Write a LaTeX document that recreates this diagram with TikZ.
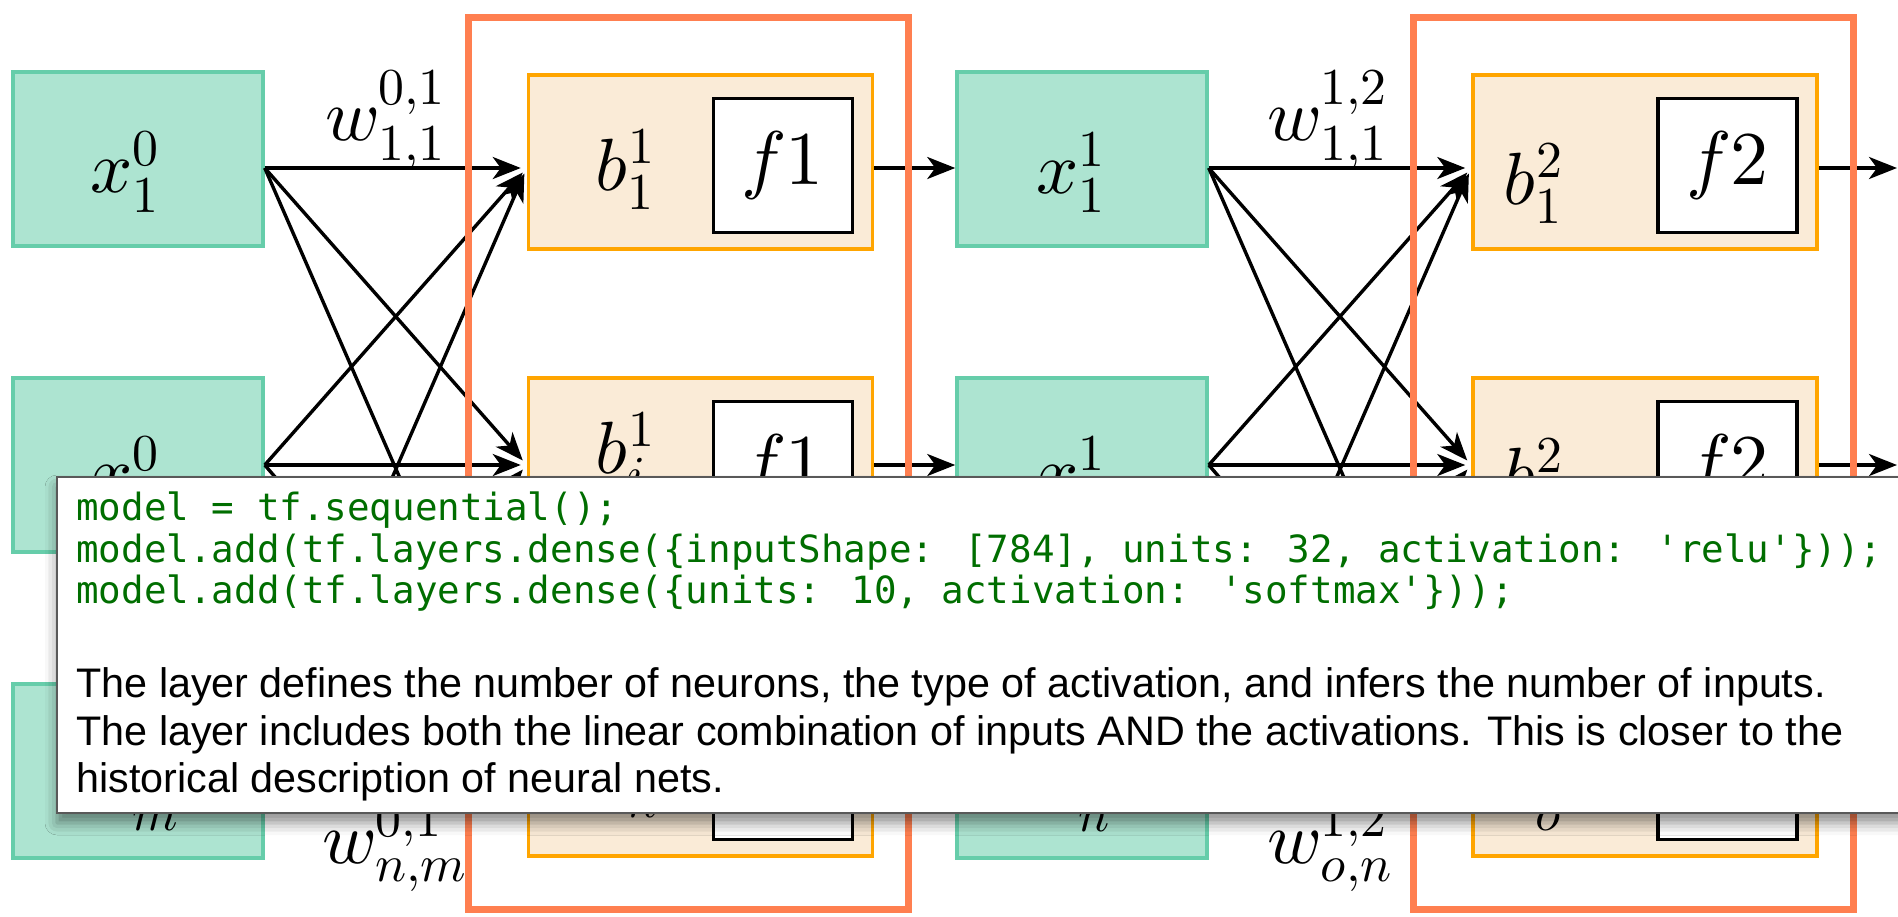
\documentclass[tikz,border=0pt]{standalone}
\usepackage{amsmath}
\usepackage{unicode-math}
\newfontfamily\notefont{Liberation Sans}
\newfontfamily\codefont{DejaVu Sans Mono}
\usetikzlibrary{arrows.meta, positioning, shadows.blur}

\definecolor{infill}{RGB}{173,228,209}
\definecolor{inedge}{RGB}{102,205,170}
\definecolor{nfill}{RGB}{250,235,215}
\definecolor{nedge}{RGB}{255,165,0}
\definecolor{layeredge}{RGB}{255,127,80}
\definecolor{codegreen}{RGB}{0,110,0}

\begin{document}
\begin{tikzpicture}[x=0.5pt, y=-0.5pt,
  inbox/.style={draw=inedge, fill=infill, line width=1.75pt, minimum width=125pt, minimum height=87pt, inner sep=0pt},
  neuron/.style={draw=nedge, fill=nfill, line width=1.75pt, minimum width=172pt, minimum height=87pt, inner sep=0pt},
  actbox/.style={draw=black, fill=white, line width=1.75pt, minimum width=69.5pt, minimum height=67pt, inner sep=0pt, font=\fontsize{38}{40}\selectfont},
  layerbox/.style={draw=layeredge, line width=3.5pt, minimum width=220pt, minimum height=446pt, inner sep=0pt},
  mlab/.style={inner sep=0pt, anchor=base west, font=\fontsize{37}{40}\selectfont},
  wire/.style={-{Stealth[length=14pt, width=11pt, inset=4pt]}, line width=1.7pt},
  panel/.style={draw=black!65, fill=white, line width=0.8pt, minimum width=929pt, minimum height=168pt, inner sep=0pt,
    blur shadow={shadow xshift=0pt, shadow yshift=-5pt, shadow blur radius=6pt, shadow opacity=45}},
  codeline/.style={inner sep=0pt, anchor=base west, text=codegreen, font=\codefont\fontsize{18.75}{20}\selectfont},
  noteline/.style={inner sep=0pt, anchor=base west, font=\notefont\fontsize{20.65}{23}\selectfont}]
\useasboundingbox (0,0) rectangle (1898,916);
\clip (0,0) rectangle (1898,916);
\coordinate (row1) at (0,168);

% layer 0 inputs
\node[inbox] (x01) at (138,159) {};
\node[inbox] (x0i) at (138,465) {};
\node[inbox] (x0m) at (138,771) {};
\node[mlab] (lx01) at (90,192) {$x^0_1$};
\node[mlab] (lx0i) at (90,497) {$x^0_i$};
\node[mlab] (lx0m) at (90,812) {$x^0_m$};

% layer 1 neurons: bias + activation
\node[neuron] (b11) at (700.5,162) {};
\node[neuron] (b1i) at (700.5,465) {};
\node[neuron] (b1n) at (700.5,769) {};
\node[mlab] (lb11) at (595,190) {$b^1_1$};
\node[mlab] (lb1i) at (595,473) {$b^1_i$};
\node[mlab] (lb1n) at (595,799) {$b^1_n$};
\node[actbox] (f11) at (783,165.5) {$f1$};
\node[actbox] (f1i) at (783,468.5) {$f1$};
\node[actbox] (f1n) at (783,772.5) {$f1$};

% layer 1 outputs
\node[inbox] (x11) at (1082,159) {};
\node[inbox] (x1i) at (1082,465) {};
\node[inbox] (x1n) at (1082,771) {};
\node[mlab] (lx11) at (1036,193) {$x^1_1$};
\node[mlab] (lx1i) at (1036,497) {$x^1_i$};
\node[mlab] (lx1n) at (1036,813) {$x^1_n$};

% layer 2 neurons
\node[neuron] (b21) at (1645,162) {};
\node[neuron] (b2i) at (1645,465) {};
\node[neuron] (b2o) at (1645,769) {};
\node[mlab] (lb21) at (1503,204) {$b^2_1$};
\node[mlab] (lb2i) at (1503,499) {$b^2_i$};
\node[mlab] (lb2o) at (1503,812) {$b^2_o$};
\node[actbox] (f21) at (1727.5,165.5) {$f2$};
\node[actbox] (f2i) at (1727.5,468.5) {$f2$};
\node[actbox] (f2o) at (1727.5,772.5) {$f2$};

% weights
\node[mlab] (w01top) at (325,140) {$w^{0,1}_{1,1}$};
\node[mlab] (w01bot) at (322,863) {$w^{0,1}_{n,m}$};
\node[mlab] (w12top) at (1267,140) {$w^{1,2}_{1,1}$};
\node[mlab] (w12bot) at (1267,863) {$w^{1,2}_{o,n}$};

% fully connected wires
\foreach \s in {x01.east |- row1, x0i.east, x0m.east}
  \foreach \t in {b11.west |- row1, b1i.west, b1n.west}
    \draw[wire, shorten >=3pt] (\s) -- (\t);
\foreach \s in {x11.east |- row1, x1i.east, x1n.east}
  \foreach \t in {b21.west |- row1, b2i.west, b2o.west}
    \draw[wire, shorten >=3pt] (\s) -- (\t);

% activations feed the next layer
\draw[wire] (b11.east |- row1) -- (x11.west |- row1);
\draw[wire] (b1i.east) -- (b1i.east -| x1i.west);
\draw[wire] (b1n.east) -- (b1n.east -| x1n.west);
\coordinate (out1) at (1897,168);
\coordinate (outi) at (1897,465);
\coordinate (outo) at (1897,769);
\draw[wire] (b21.east |- row1) -- (out1);
\draw[wire] (b2i.east) -- (outi);
\draw[wire] (b2o.east) -- (outo);

% layer frames (on top of the wires)
\node[layerbox] (layer1) at (688,463) {};
\node[layerbox] (layer2) at (1633.5,463) {};

% tooltip panel
\node[panel] (panel) at (986,645) {};
\node[codeline] (code1) at (76,520) {model = tf.sequential();};
\node[codeline] (code2) at (76,562) {model.add(tf.layers.dense(\{inputShape: [784], units: 32, activation: 'relu'\}));};
\node[codeline] (code3) at (76,603) {model.add(tf.layers.dense(\{units: 10, activation: 'softmax'\}));};
\node[noteline] (note1) at (76,697) {The layer defines the number of neurons, the type of activation, and infers the number of inputs.};
\node[noteline] (note2) at (76,745) {The layer includes both the linear combination of inputs AND the activations. This is closer to the};
\node[noteline] (note3) at (76,792) {historical description of neural nets.};
\end{tikzpicture}
\end{document}
